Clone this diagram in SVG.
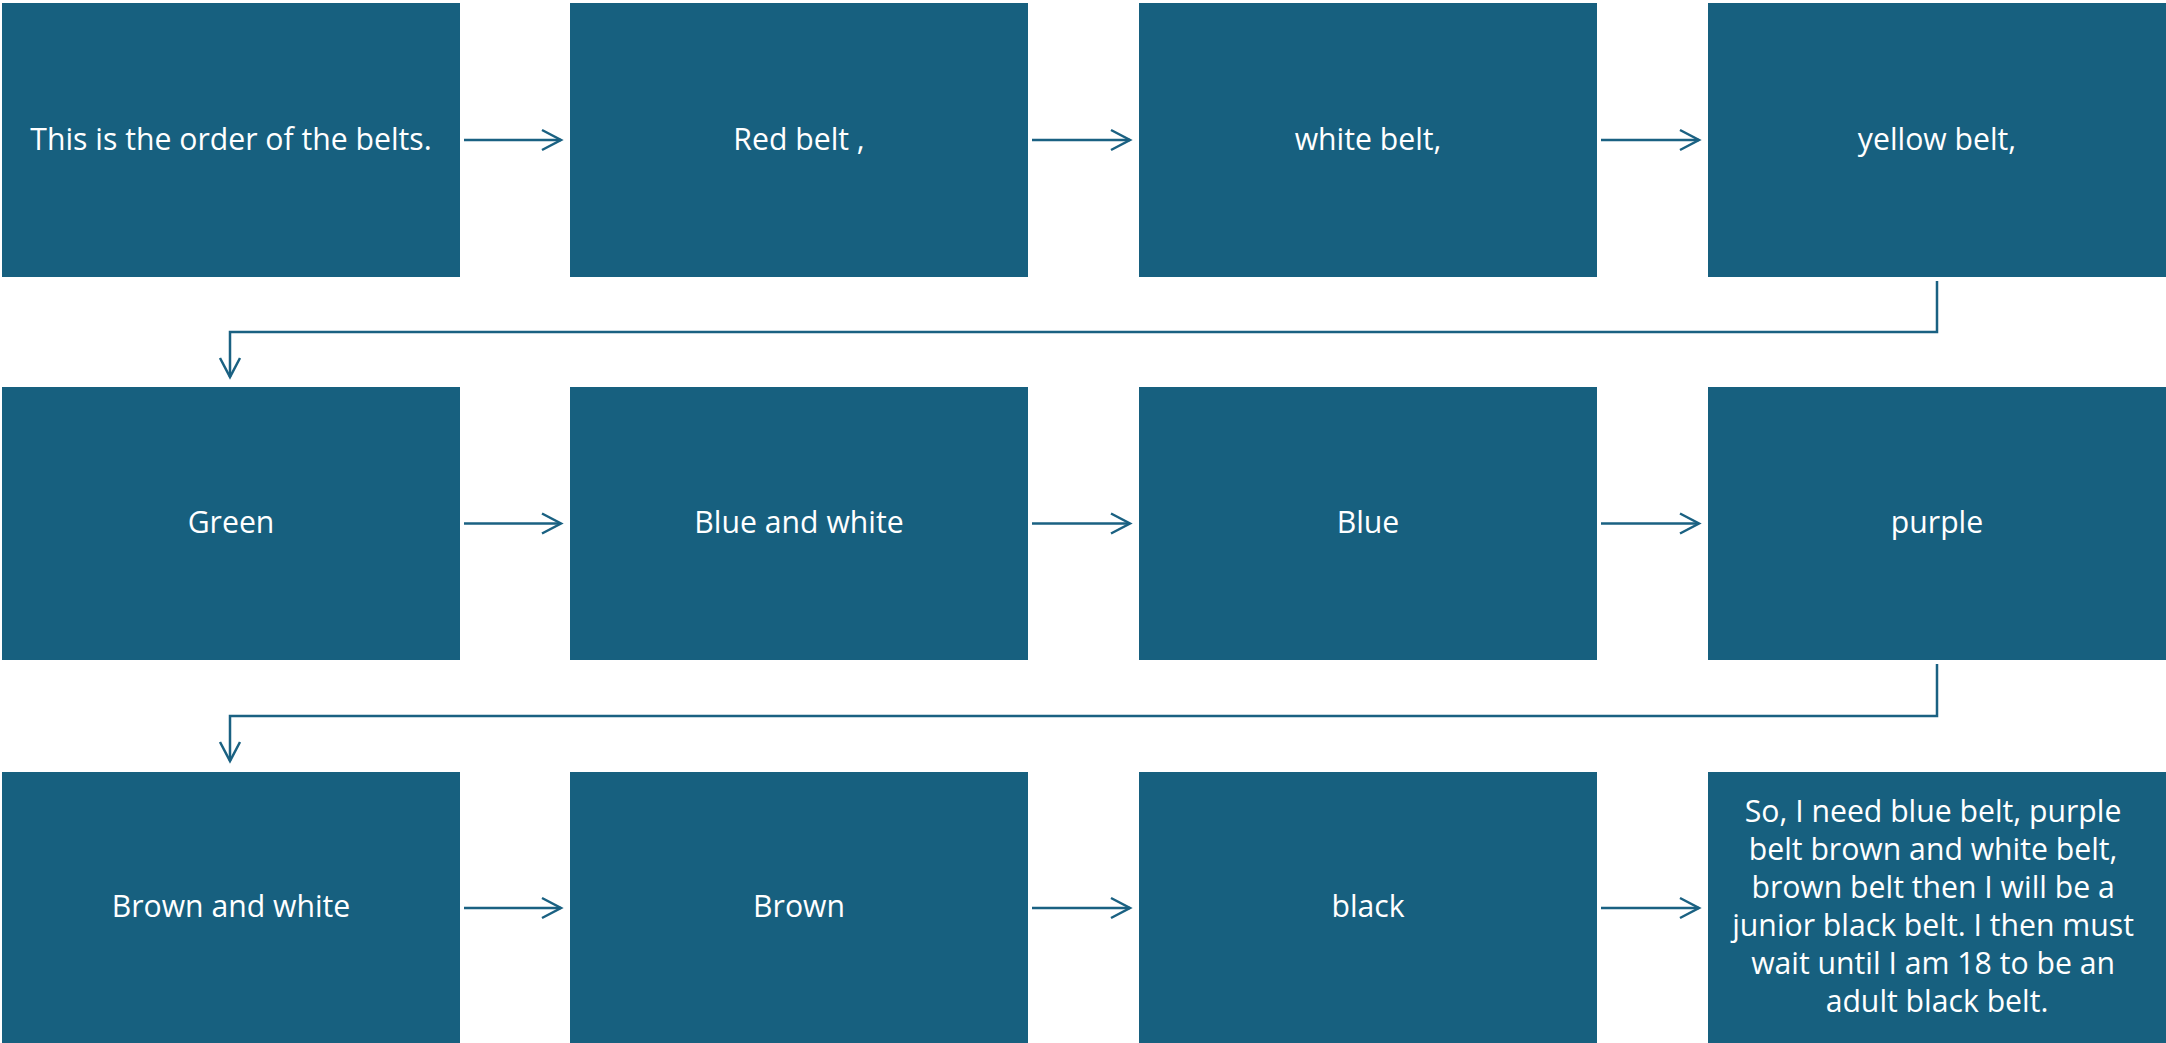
<svg xmlns="http://www.w3.org/2000/svg" width="2166" height="1043" viewBox="0 0 2166 1043">
  <style>
    .box { fill: #17607f; }
    .label { fill: #ffffff; font-family: "Open Sans", "Liberation Sans", sans-serif; font-size: 30.2px; text-anchor: middle; }
    .link { fill: none; stroke: #1a6182; stroke-width: 2.5; }
  </style>
  <defs>
    <marker id="chevron" markerUnits="userSpaceOnUse" markerWidth="24" markerHeight="24" refX="19" refY="10" orient="auto" overflow="visible">
      <path d="M0,0 L19,10 L0,20" fill="none" stroke="#1a6182" stroke-width="2.5"/>
    </marker>
  </defs>

  <rect width="2166" height="1043" fill="#ffffff"/>

  <!-- row 1 -->
  <g id="n1"><rect class="box" x="2" y="3" width="458" height="274"/><text class="label" x="231" y="149.5">This is the order of the belts.</text></g>
  <g id="n2"><rect class="box" x="570" y="3" width="458" height="274"/><text class="label" x="799" y="149.5">Red belt ,</text></g>
  <g id="n3"><rect class="box" x="1139" y="3" width="458" height="274"/><text class="label" x="1368" y="149.5">white belt,</text></g>
  <g id="n4"><rect class="box" x="1708" y="3" width="458" height="274"/><text class="label" x="1937" y="149.5">yellow belt,</text></g>

  <!-- row 2 -->
  <g id="n5"><rect class="box" x="2" y="387" width="458" height="273"/><text class="label" x="231" y="533">Green</text></g>
  <g id="n6"><rect class="box" x="570" y="387" width="458" height="273"/><text class="label" x="799" y="533">Blue and white</text></g>
  <g id="n7"><rect class="box" x="1139" y="387" width="458" height="273"/><text class="label" x="1368" y="533">Blue</text></g>
  <g id="n8"><rect class="box" x="1708" y="387" width="458" height="273"/><text class="label" x="1937" y="533">purple</text></g>

  <!-- row 3 -->
  <g id="n9"><rect class="box" x="2" y="772" width="458" height="274"/><text class="label" x="231" y="917">Brown and white</text></g>
  <g id="n10"><rect class="box" x="570" y="772" width="458" height="274"/><text class="label" x="799" y="917">Brown</text></g>
  <g id="n11"><rect class="box" x="1139" y="772" width="458" height="274"/><text class="label" x="1368" y="917">black</text></g>
  <g id="n12"><rect class="box" x="1708" y="772" width="458" height="274"/>
    <text class="label" x="1937">
      <tspan x="1937" y="821.5">So, I need blue belt, purple</tspan>
      <tspan x="1937" y="859.5">belt brown and white belt,</tspan>
      <tspan x="1937" y="897.5">brown belt then I will be a</tspan>
      <tspan x="1937" y="935.5">junior black belt. I then must</tspan>
      <tspan x="1937" y="973.5">wait until I am 18 to be an</tspan>
      <tspan x="1937" y="1011.5">adult black belt.</tspan>
    </text>
  </g>

  <!-- connectors -->
  <g id="connectors">
    <path class="link" marker-end="url(#chevron)" d="M464,140 H561"/>
    <path class="link" marker-end="url(#chevron)" d="M1032,140 H1130"/>
    <path class="link" marker-end="url(#chevron)" d="M1601,140 H1699"/>
    <path class="link" marker-end="url(#chevron)" d="M1937,281 V332 H230 V377"/>
    <path class="link" marker-end="url(#chevron)" d="M464,523.5 H561"/>
    <path class="link" marker-end="url(#chevron)" d="M1032,523.5 H1130"/>
    <path class="link" marker-end="url(#chevron)" d="M1601,523.5 H1699"/>
    <path class="link" marker-end="url(#chevron)" d="M1937,664 V716 H230 V761"/>
    <path class="link" marker-end="url(#chevron)" d="M464,908 H561"/>
    <path class="link" marker-end="url(#chevron)" d="M1032,908 H1130"/>
    <path class="link" marker-end="url(#chevron)" d="M1601,908 H1699"/>
  </g>
</svg>
